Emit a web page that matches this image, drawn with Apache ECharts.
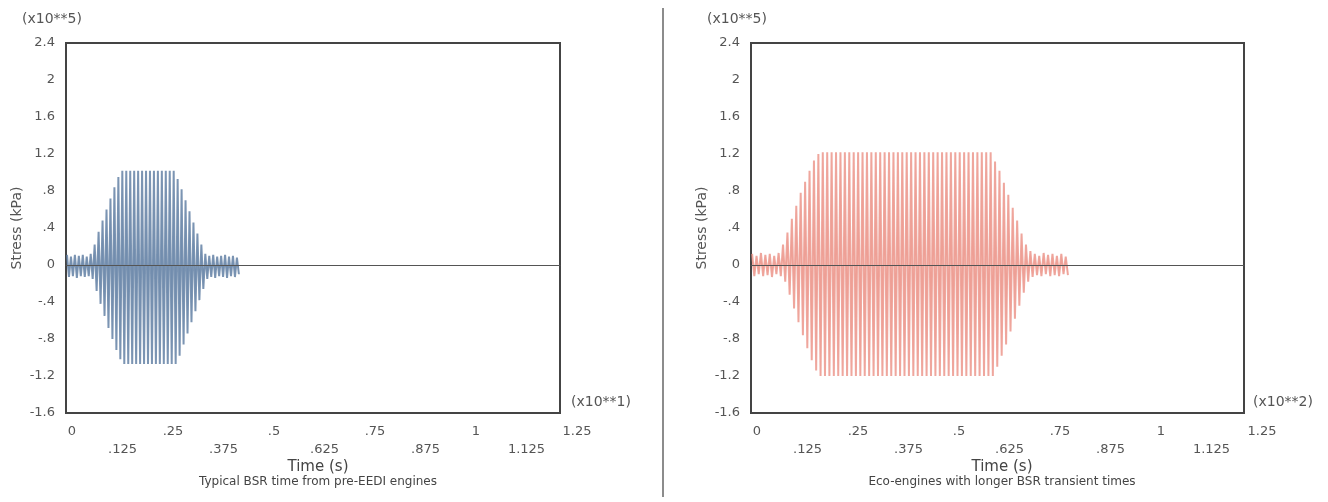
<!DOCTYPE html>
<html>
<head>
<meta charset="utf-8">
<script src="https://cdn.jsdelivr.net/npm/echarts@6/dist/echarts.min.js"></script>
<style>
  html, body { margin: 0; padding: 0; background: #fff; }
  #main { width: 1328px; height: 502px; }
</style>
</head>
<body>
<div id="main"></div>
<script>
// tick labels
var xTickLabels = ['0', '.125', '.25', '.375', '.5', '.625', '.75', '.875', '1', '1.125', '1.25'];
var yTickLabels = {'24': '2.4', '20': '2', '16': '1.6', '12': '1.2', '8': '.8', '4': '.4', '0': '0',
    '-4': '-.4', '-8': '-.8', '-12': '-1.2', '-16': '-1.6'};

// left: typical BSR (one peak + one trough per cycle)
var leftStep = 0.01;
var leftPeaks = [
    0.11, 0.09, 0.11, 0.10, 0.11, 0.09, 0.12,
    0.22, 0.36, 0.48, 0.60, 0.72, 0.84, 0.95,
    1.02, 1.02, 1.02, 1.02, 1.02, 1.02, 1.02, 1.02, 1.02, 1.02, 1.02, 1.02, 1.02, 1.02,
    0.93, 0.82, 0.70, 0.58, 0.46, 0.34, 0.22, 0.12,
    0.10, 0.11, 0.09, 0.10, 0.11, 0.09, 0.10, 0.08
];
var leftTroughs = [
    -0.13, -0.12, -0.14, -0.12, -0.13, -0.12, -0.15,
    -0.28, -0.42, -0.55, -0.68, -0.80, -0.92, -1.02,
    -1.07, -1.07, -1.07, -1.07, -1.07, -1.07, -1.07, -1.07, -1.07, -1.07, -1.07, -1.07, -1.07, -1.07,
    -0.98, -0.86, -0.74, -0.62, -0.50, -0.38, -0.26, -0.15,
    -0.13, -0.14, -0.12, -0.13, -0.14, -0.12, -0.13, -0.10
];

// right: eco-engines, longer transient
var rightStep = 0.0112;
var rightPeaks = [
    0.12, 0.10, 0.13, 0.11, 0.12, 0.10, 0.13,
    0.22, 0.35, 0.50, 0.64, 0.78, 0.90, 1.02, 1.13, 1.20,
    1.22, 1.22, 1.22, 1.22, 1.22, 1.22, 1.22, 1.22, 1.22, 1.22,
    1.22, 1.22, 1.22, 1.22, 1.22, 1.22, 1.22, 1.22, 1.22, 1.22,
    1.22, 1.22, 1.22, 1.22, 1.22, 1.22, 1.22, 1.22, 1.22, 1.22,
    1.22, 1.22, 1.22, 1.22, 1.22, 1.22, 1.22, 1.22, 1.22,
    1.12, 1.02, 0.89, 0.76, 0.62, 0.48, 0.34, 0.22, 0.15,
    0.12, 0.10, 0.13, 0.11, 0.12, 0.10, 0.12, 0.09
];
var rightTroughs = [
    -0.12, -0.10, -0.12, -0.11, -0.13, -0.10, -0.12,
    -0.18, -0.32, -0.47, -0.62, -0.76, -0.90, -1.03, -1.14, -1.20,
    -1.20, -1.20, -1.20, -1.20, -1.20, -1.20, -1.20, -1.20, -1.20, -1.20,
    -1.20, -1.20, -1.20, -1.20, -1.20, -1.20, -1.20, -1.20, -1.20, -1.20,
    -1.20, -1.20, -1.20, -1.20, -1.20, -1.20, -1.20, -1.20, -1.20, -1.20,
    -1.20, -1.20, -1.20, -1.20, -1.20, -1.20, -1.20, -1.20, -1.20,
    -1.10, -0.98, -0.86, -0.72, -0.58, -0.44, -0.30, -0.18, -0.13,
    -0.11, -0.12, -0.10, -0.12, -0.11, -0.12, -0.10, -0.11
];

function buildWave(peaks, troughs, step) {
    var pts = [];
    for (var i = 0; i < peaks.length; i++) {
        pts.push([i * step + step * 0.25, peaks[i]]);
        pts.push([i * step + step * 0.75, troughs[i]]);
    }
    return pts;
}

var FONT = 'DejaVu Sans';
var GREY = '#555';

var chartDom = document.getElementById('main');
var myChart = echarts.init(chartDom);

function yLabel(v) {
    var k = String(Math.round(v * 10));
    return yTickLabels[k] !== undefined ? yTickLabels[k] : '';
}
function xLabel(v) {
    var k = Math.round(v / 0.125);
    var s = xTickLabels[k] || '';
    return k % 2 === 1 ? '\n' + s : s;
}

// box grids (0, 1) and label grids (2, 3)
var boxes = [{left: 66, width: 494}, {left: 751, width: 493}];
var labelGrids = [{left: 72, width: 505}, {left: 757, width: 505}];

var grid = [], xAxis = [], yAxis = [];
boxes.forEach(function (b, i) {
    grid.push({left: b.left, width: b.width, top: 43, height: 370, show: true,
        borderColor: '#444', borderWidth: 2, backgroundColor: '#fff'});
    xAxis.push({type: 'value', gridIndex: i, min: 0, max: 1.25, z: 10,
        axisLine: {onZero: true, lineStyle: {color: '#555', width: 1}},
        axisTick: {show: false}, axisLabel: {show: false}, splitLine: {show: false}});
    yAxis.push({type: 'value', gridIndex: i, min: -1.6, max: 2.4, interval: 0.4,
        name: 'Stress (kPa)', nameLocation: 'middle', nameGap: 42, nameRotate: 90,
        nameTextStyle: {fontFamily: FONT, fontSize: 14, color: GREY},
        axisLine: {show: false}, axisTick: {show: false}, splitLine: {show: false},
        axisLabel: {formatter: yLabel, fontFamily: FONT, fontSize: 13, color: GREY, margin: 11}});
});
labelGrids.forEach(function (g, i) {
    grid.push({left: g.left, width: g.width, top: 43, height: 370});
    xAxis.push({type: 'value', gridIndex: 2 + i, min: 0, max: 1.25, interval: 0.125,
        axisLine: {show: false, onZero: false}, axisTick: {show: false}, splitLine: {show: false},
        axisLabel: {formatter: xLabel, fontFamily: FONT, fontSize: 13, color: GREY,
            margin: 10, lineHeight: 18, showMinLabel: true, showMaxLabel: true}});
    yAxis.push({type: 'value', gridIndex: 2 + i, min: -1.6, max: 2.4, show: false});
});

var option = {
    animation: false,
    grid: grid,
    xAxis: xAxis,
    yAxis: yAxis,
    title: [
        {text: 'Time (s)', subtext: 'Typical BSR time from pre-EEDI engines', left: 313, top: 455,
            textAlign: 'center', itemGap: 0,
            textStyle: {fontFamily: FONT, fontSize: 15, fontWeight: 'normal', color: '#444'},
            subtextStyle: {fontFamily: FONT, fontSize: 12, color: '#444', lineHeight: 13}},
        {text: 'Time (s)', subtext: 'Eco-engines with longer BSR transient times', left: 997, top: 455,
            textAlign: 'center', itemGap: 0,
            textStyle: {fontFamily: FONT, fontSize: 15, fontWeight: 'normal', color: '#444'},
            subtextStyle: {fontFamily: FONT, fontSize: 12, color: '#444', lineHeight: 13}}
    ],
    graphic: [
        {type: 'text', left: 22, top: 12, style: {text: '(x10**5)', font: '14px "DejaVu Sans"', fill: GREY}},
        {type: 'text', left: 707, top: 12, style: {text: '(x10**5)', font: '14px "DejaVu Sans"', fill: GREY}},
        {type: 'text', left: 571, top: 395, style: {text: '(x10**1)', font: '14px "DejaVu Sans"', fill: GREY}},
        {type: 'text', left: 1253, top: 395, style: {text: '(x10**2)', font: '14px "DejaVu Sans"', fill: GREY}},
        {type: 'line', shape: {x1: 663, y1: 8, x2: 663, y2: 497}, style: {stroke: '#666', lineWidth: 1.5}}
    ],
    series: [
        {type: 'line', xAxisIndex: 0, yAxisIndex: 0, symbol: 'none',
            data: buildWave(leftPeaks, leftTroughs, leftStep),
            lineStyle: {color: '#5b7aa0', width: 2, opacity: 0.8},
            areaStyle: {color: '#9db2cb', opacity: 0.5, origin: 0}},
        {type: 'line', xAxisIndex: 1, yAxisIndex: 1, symbol: 'none',
            data: buildWave(rightPeaks, rightTroughs, rightStep),
            lineStyle: {color: '#e9897d', width: 2, opacity: 0.75},
            areaStyle: {color: '#f5bdb4', opacity: 0.5, origin: 0}}
    ]
};
myChart.setOption(option);
</script>
</body>
</html>
